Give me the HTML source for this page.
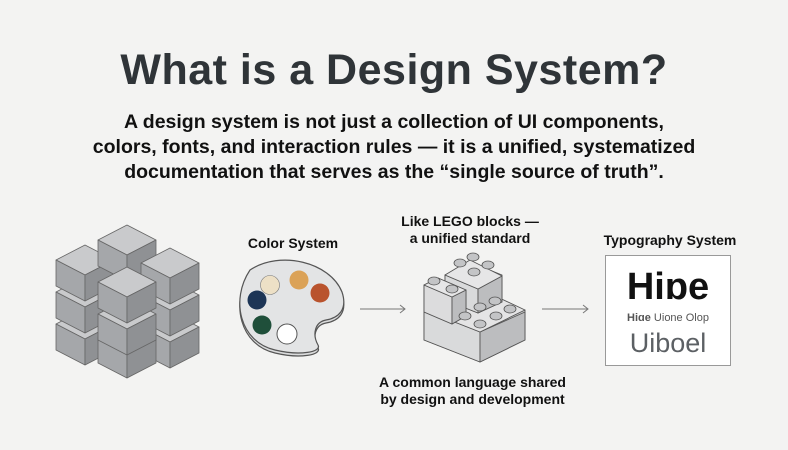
<!DOCTYPE html>
<html><head><meta charset="utf-8"><style>
body{margin:0;width:788px;height:450px;background:#f3f3f2;font-family:"Liberation Sans",sans-serif;overflow:hidden;position:relative}
.t{position:absolute;white-space:nowrap;text-align:center;color:#111}
</style></head><body>
<div class="t" style="left:0;width:788px;top:46px;font-size:43px;font-weight:bold;color:#2f3438;letter-spacing:0.5px">What is a Design System?</div>
<div class="t" style="left:0;width:788px;top:110px;font-size:19.5px;font-weight:bold;line-height:25px">A design system is not just a collection of UI components,<br>colors, fonts, and interaction rules — it is a unified, systematized<br>documentation that serves as the “single source of truth”.</div>
<div class="t" style="left:233px;width:120px;top:235px;font-size:14px;font-weight:bold">Color System</div>
<div class="t" style="left:380px;width:180px;top:213px;font-size:14px;font-weight:bold;line-height:17px">Like LEGO blocks —<br>a unified standard</div>
<div class="t" style="left:370px;width:205px;top:374px;font-size:14px;font-weight:bold;line-height:17px">A common language shared<br>by design and development</div>
<div class="t" style="left:590px;width:160px;top:232px;font-size:14px;font-weight:bold">Typography System</div>
<svg width="788" height="450" style="position:absolute;left:0;top:0">
<defs>
<g id="cube" stroke="#666" stroke-width="0.8" stroke-linejoin="round">
<polygon points="0,0 29,15 0,30 -29,15" fill="#c9cacc"/>
<polygon points="-29,15 0,30 0,56 -29,41" fill="#a5a7aa"/>
<polygon points="0,30 29,15 29,41 0,56" fill="#8f9194"/>
</g>
</defs>
<use href="#cube" x="85" y="309"/><use href="#cube" x="170" y="312"/>
<use href="#cube" x="85" y="277"/><use href="#cube" x="170" y="280"/>
<use href="#cube" x="127" y="322"/>
<use href="#cube" x="85" y="245"/><use href="#cube" x="127" y="225"/><use href="#cube" x="170" y="248"/>
<use href="#cube" x="127" y="299"/>
<use href="#cube" x="127" y="267"/>
<!-- palette -->
<path d="M250,270 C280,250 330,262 342,292 C348,310 338,318 326,320 C315,322 312,334 318,345 C322,352 300,356 275,350 C240,342 230,300 250,270Z" fill="#dadbdc" stroke="#555" stroke-width="1.2" transform="translate(0,3)"/>
<path d="M250,270 C280,250 330,262 342,292 C348,310 338,318 326,320 C315,322 312,334 318,345 C322,352 300,356 275,350 C240,342 230,300 250,270Z" fill="#e3e4e5" stroke="#555" stroke-width="1.2"/>
<circle cx="270" cy="285" r="9.5" fill="#ede0c6" stroke="#777" stroke-width="0.6"/>
<circle cx="299" cy="280" r="9.5" fill="#dba257"/>
<circle cx="320" cy="293" r="9.5" fill="#b9532d"/>
<circle cx="257" cy="300" r="9.5" fill="#1d3556"/>
<circle cx="262" cy="325" r="9.5" fill="#1f4f3a"/>
<circle cx="287" cy="334" r="10" fill="#fff" stroke="#555" stroke-width="1"/>
<!-- arrows -->
<g stroke="#777" stroke-width="1" fill="none">
<line x1="360" y1="309" x2="405" y2="309"/><polyline points="400,305 405,309 400,313"/>
<line x1="542" y1="309" x2="588" y2="309"/><polyline points="583,305 588,309 583,313"/>
</g>
<!-- lego -->
<g stroke="#555" stroke-width="0.9" stroke-linejoin="round">
<polygon points="424,310 424,340 480,362 525,340 525,310 480,330" fill="#cfd0d1"/>
<polygon points="424,310 480,332 480,362 424,340" fill="#d9dadb"/>
<polygon points="480,332 525,312 525,340 480,362" fill="#bcbdbf"/>
<polygon points="424,310 478,288 525,310 480,332" fill="#e4e4e5"/>
<polygon points="445,275 445,300 478,313 502,302 502,275 470,262" fill="#cfd0d1"/>
<polygon points="445,275 478,289 478,313 445,300" fill="#d9dadb"/>
<polygon points="478,289 502,276 502,302 478,313" fill="#bcbdbf"/>
<polygon points="445,275 470,260 502,276 478,289" fill="#e6e6e7"/>
<polygon points="424,285 424,312 452,324 466,316 466,290 438,278" fill="#d2d3d4"/>
<polygon points="424,285 452,297 452,324 424,312" fill="#dcdcdd"/>
<polygon points="452,297 466,290 466,316 452,324" fill="#bcbdbf"/>
<polygon points="424,285 438,278 466,290 452,297" fill="#e6e6e7"/>
</g>
<g fill="#c3c4c6" stroke="#555" stroke-width="0.8">
<ellipse cx="473" cy="257" rx="6" ry="4"/><ellipse cx="460" cy="263" rx="6" ry="4"/><ellipse cx="488" cy="265" rx="6" ry="4"/><ellipse cx="474" cy="272" rx="6" ry="4"/>
<ellipse cx="434" cy="281" rx="6" ry="4"/><ellipse cx="452" cy="289" rx="6" ry="4"/>
<ellipse cx="495" cy="301" rx="6" ry="4"/><ellipse cx="510" cy="309" rx="6" ry="4"/><ellipse cx="480" cy="307" rx="6" ry="4"/><ellipse cx="496" cy="316" rx="6" ry="4"/><ellipse cx="465" cy="316" rx="6" ry="4"/><ellipse cx="480" cy="324" rx="6" ry="4"/>
</g>
<rect x="605.5" y="255.5" width="125" height="110" fill="#fff" stroke="#999"/>
</svg>
<div class="t" style="left:605px;width:126px;top:266px;font-size:38px;font-weight:bold;color:#111">Hiɒe</div>
<div class="t" style="left:605px;width:126px;top:312px;font-size:11px;color:#555"><b>Hiɑe</b> Uione Olop</div>
<div class="t" style="left:605px;width:126px;top:328px;font-size:27px;color:#5c6064">Uiboel</div>
</body></html>
